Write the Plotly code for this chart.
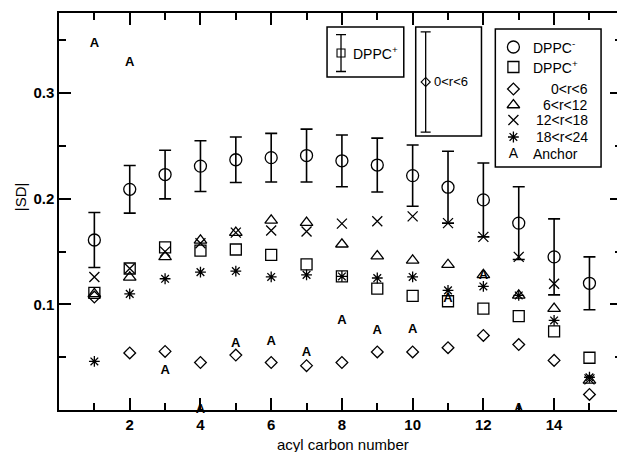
import plotly.graph_objects as go

# ---------------- data ----------------
carbon = list(range(1, 16))
dppc_minus = [0.161, 0.209, 0.223, 0.231, 0.237, 0.239, 0.241, 0.236, 0.232, 0.222,
              0.211, 0.199, 0.177, 0.145, 0.120]
dppc_minus_err = [0.026, 0.0225, 0.023, 0.024, 0.0215, 0.023, 0.025, 0.0245, 0.0255, 0.029,
                  0.034, 0.035, 0.0345, 0.036, 0.025]
dppc_plus = [0.111, 0.134, 0.154, 0.151, 0.152, 0.147, 0.138, 0.1265, 0.115, 0.108,
             0.103, 0.096, 0.089, 0.0744, 0.0495]
r0_6 = [0.107, 0.054, 0.0555, 0.045, 0.052, 0.045, 0.042, 0.045, 0.055, 0.055,
        0.059, 0.0706, 0.062, 0.047, 0.0147]
r6_12 = [0.110, 0.1256, 0.145, 0.1607, 0.168, 0.1796, 0.1774, 0.157, 0.1458, 0.1417,
         0.1376, 0.128, 0.1085, 0.096, 0.028]
r12_18 = [0.126, 0.134, 0.150, 0.158, 0.168, 0.170, 0.169, 0.1765, 0.1787, 0.1834,
          0.177, 0.164, 0.145, 0.1196, 0.029]
r18_24 = [0.046, 0.110, 0.1243, 0.1306, 0.1316, 0.126, 0.128, 0.1265, 0.125, 0.126,
          0.1133, 0.117, 0.1085, 0.0848, 0.031]
anchor_carbon = list(range(1, 14))
anchor = [0.347, 0.329, 0.0374, 0.0, 0.0627, 0.0643, 0.0538, 0.085, 0.0754, 0.076,
          0.105, 0.127, 0.001]

# typical error bars shown in the two inset boxes
dppc_plus_typical_err = [0.0175]
r0_6_typical_err = [0.0474]

x_ticks = [2, 4, 6, 8, 10, 12, 14]
x_minor = [1, 3, 5, 7, 9, 11, 13, 15]
y_ticks = [0.1, 0.2, 0.3]
y_minor = [0.05, 0.15, 0.25, 0.35]

series_names = ["DPPC<sup>-</sup>", "DPPC<sup>+</sup>", "0&lt;r&lt;6", "6&lt;r&lt;12",
                "12&lt;r&lt;18", "18&lt;r&lt;24", "Anchor"]

# ---------------- layout constants ----------------
X_RANGE = [0, 15.92]
Y_RANGE = [0, 0.376]
FONT = "Liberation Sans, Arial, sans-serif"
LW = 1.3

styles = [
    dict(symbol="circle-open", size=12, line=dict(width=LW, color="black"), color="black"),
    dict(symbol="square-open", size=11, line=dict(width=LW, color="black"), color="black"),
    dict(symbol="diamond-open", size=9, line=dict(width=LW, color="black"), color="black"),
    dict(symbol="triangle-up-open", size=11, line=dict(width=LW, color="black"), color="black"),
    dict(symbol="x-thin-open", size=10, line=dict(width=LW, color="black"), color="black"),
    dict(symbol="asterisk-open", size=9, line=dict(width=LW, color="black"), color="black"),
]

fig = go.Figure()

series = [dppc_minus, dppc_plus, r0_6, r6_12, r12_18, r18_24]
for i in [5, 4, 3, 2, 1]:
    fig.add_trace(go.Scatter(x=carbon, y=series[i], mode="markers", marker=styles[i],
                             showlegend=False, cliponaxis=False))

fig.add_trace(go.Scatter(x=anchor_carbon, y=anchor, mode="text",
                         text=["<b>A</b>"] * len(anchor_carbon),
                         textfont=dict(family=FONT, size=13, color="black"),
                         showlegend=False, cliponaxis=False))

fig.add_trace(go.Scatter(x=carbon, y=dppc_minus, mode="markers", marker=styles[0],
                         error_y=dict(type="data", array=dppc_minus_err, color="black",
                                      thickness=1.6, width=6),
                         showlegend=False, cliponaxis=False))

# ---- helpers: plot-area fraction -> data coordinates (layout only) ----
def fx(f):
    return X_RANGE[0] + f * (X_RANGE[1] - X_RANGE[0])

def fy(f):
    return Y_RANGE[0] + f * (Y_RANGE[1] - Y_RANGE[0])

# inset boxes with typical error bars
fig.add_trace(go.Scatter(x=[fx(0.5009)], y=[fy(0.8992)], mode="markers",
                         marker=dict(symbol="square-open", size=8,
                                     line=dict(width=1.1, color="black"), color="black"),
                         error_y=dict(type="data", array=dppc_plus_typical_err, color="black",
                                      thickness=1.3, width=5),
                         showlegend=False, cliponaxis=False))
fig.add_trace(go.Scatter(x=[fx(0.6513)], y=[fy(0.8262)], mode="markers",
                         marker=dict(symbol="diamond-open", size=7,
                                     line=dict(width=1.1, color="black"), color="black"),
                         error_y=dict(type="data", array=r0_6_typical_err, color="black",
                                      thickness=1.3, width=5),
                         showlegend=False, cliponaxis=False))

# ---------------- custom legend (overlay axes in plot-fraction units) ----------------
leg_sym_x = 0.8071
leg_rows = [0.9144, 0.864, 0.8086, 0.7683, 0.7305, 0.6877, 0.6448]
for i in range(6):
    fig.add_trace(go.Scatter(x=[leg_sym_x], y=[leg_rows[i]], mode="markers",
                             marker=styles[i], xaxis="x2", yaxis="y2",
                             showlegend=False, cliponaxis=False))
fig.add_trace(go.Scatter(x=[leg_sym_x], y=[leg_rows[6]], mode="text", text=["A"],
                         textfont=dict(family=FONT, size=14, color="black"),
                         xaxis="x2", yaxis="y2", showlegend=False, cliponaxis=False))

annotations = []
for i, name in enumerate(series_names):
    left = i in (0, 1, 6)
    annotations.append(dict(x=0.839 if left else 0.9434, y=leg_rows[i],
                            xref="paper", yref="paper", text=name, showarrow=False,
                            xanchor="left" if left else "right", yanchor="middle",
                            font=dict(family=FONT, size=14, color="black")))

annotations.append(dict(x=0.5186, y=0.8992, xref="paper", yref="paper",
                        text="DPPC<sup>+</sup>", showarrow=False, xanchor="left",
                        yanchor="middle", font=dict(family=FONT, size=14, color="black")))
annotations.append(dict(x=0.6619, y=0.8262, xref="paper", yref="paper",
                        text="0&lt;r&lt;6", showarrow=False, xanchor="left",
                        yanchor="middle", font=dict(family=FONT, size=13, color="black")))
annotations.append(dict(x=-0.069, y=0.5365, xref="paper", yref="paper", text="|SD|",
                        textangle=-90, showarrow=False, xanchor="center", yanchor="middle",
                        font=dict(family=FONT, size=15, color="black")))
annotations.append(dict(x=0.5044, y=-0.088, xref="paper", yref="paper",
                        text="acyl carbon number", showarrow=False, xanchor="center",
                        yanchor="middle", font=dict(family=FONT, size=15, color="black")))

shapes = [
    dict(type="rect", xref="paper", yref="paper", x0=0.775, x1=0.9628, y0=0.612, y1=0.9597,
         line=dict(color="black", width=1.5), fillcolor="rgba(0,0,0,0)"),
    dict(type="rect", xref="paper", yref="paper", x0=0.4761, x1=0.6124, y0=0.8388, y1=0.9647,
         line=dict(color="black", width=1.5), fillcolor="rgba(0,0,0,0)"),
    dict(type="rect", xref="paper", yref="paper", x0=0.6336, x1=0.7504, y0=0.6902, y1=0.9647,
         line=dict(color="black", width=1.5), fillcolor="rgba(0,0,0,0)"),
]

# the page adds an 8px body margin, so the figure is sized to fit inside 625x452
fig.update_layout(
    width=617, height=444,
    margin=dict(l=51, r=1, t=5, b=42),
    paper_bgcolor="white", plot_bgcolor="white",
    font=dict(family=FONT, size=15, color="black"),
    showlegend=False,
    annotations=annotations,
    shapes=shapes,
    xaxis=dict(range=X_RANGE, tickmode="array", tickvals=x_ticks,
               ticktext=[f"<b>{v}</b>" for v in x_ticks],
               ticks="inside", ticklen=12, tickwidth=1.5, tickcolor="black",
               minor=dict(tickmode="array", tickvals=x_minor, ticks="inside", ticklen=7,
                          tickwidth=1.5, tickcolor="black", showgrid=False),
               showline=True, linewidth=1.5, linecolor="black", mirror="ticks",
               showgrid=False, zeroline=False,
               tickfont=dict(family=FONT, size=15, color="black")),
    yaxis=dict(range=Y_RANGE, tickmode="array", tickvals=y_ticks,
               ticktext=[f"<b>{v}</b>" for v in y_ticks],
               ticks="inside", ticklen=12, tickwidth=1.5, tickcolor="black",
               minor=dict(tickmode="array", tickvals=y_minor, ticks="inside", ticklen=7,
                          tickwidth=1.5, tickcolor="black", showgrid=False),
               showline=True, linewidth=1.5, linecolor="black", mirror="ticks",
               showgrid=False, zeroline=False,
               tickfont=dict(family=FONT, size=15, color="black")),
    xaxis2=dict(overlaying="x", range=[0, 1], visible=False, anchor="y2"),
    yaxis2=dict(overlaying="y", range=[0, 1], visible=False, anchor="x2"),
)

fig.write_html("out.html")
